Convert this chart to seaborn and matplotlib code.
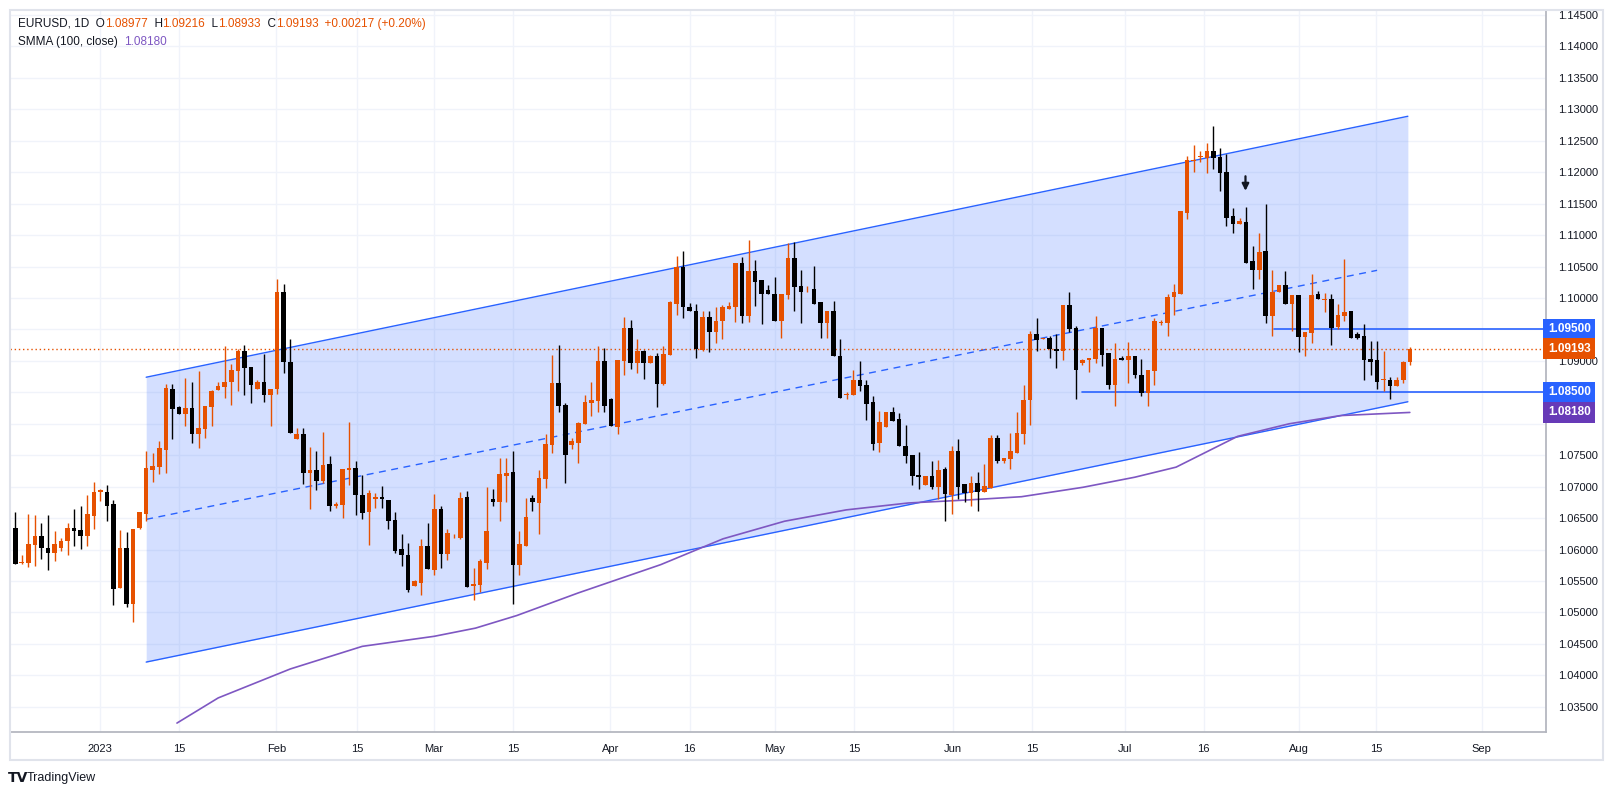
import numpy as np
import pandas as pd
import seaborn as sns
import matplotlib
matplotlib.use("Agg")
import matplotlib.pyplot as plt
from matplotlib.patches import Rectangle

# ---------------- data ----------------
opens = [1.0634,1.0579,1.0578,1.0607,1.0621,1.0603,1.0595,1.0603,1.0613,1.0634,1.0631,1.0622,1.0653,1.0692,1.0692,1.0673,1.0539,1.0602,1.0513,1.0634,
 1.0657,1.0727,1.0732,1.0759,1.0856,1.0827,1.0816,1.0825,1.0784,1.0792,1.0827,1.0854,1.0859,1.0866,1.0884,1.0916,1.0890,1.0856,1.0867,1.0845,
 1.0855,1.1009,1.0899,1.0776,1.0783,1.0722,1.0726,1.0709,1.0736,1.0670,1.0671,1.0726,1.0730,1.0687,1.0659,1.0680,1.0684,1.0678,1.0647,1.0601,
 1.0592,1.0542,1.0547,1.0605,1.0568,1.0665,1.0593,1.0621,1.0619,1.0683,1.0542,1.0543,1.0579,1.0681,1.0676,1.0717,1.0724,1.0576,1.0606,1.0682,
 1.0674,1.0712,1.0766,1.0865,1.0830,1.0767,1.0770,1.0800,1.0833,1.0836,1.0900,1.0839,1.0795,1.0900,1.0953,1.0897,1.0916,1.0896,1.0908,1.0863,
 1.0909,1.0991,1.1050,1.0985,1.0980,1.0918,1.0970,1.0946,1.0963,1.0983,1.0986,1.1055,1.0971,1.1043,1.1028,1.1012,1.1007,1.0963,1.1005,1.1064,
 1.1019,1.1014,1.1014,1.0993,1.0960,1.0979,1.0908,1.0846,1.0846,1.0870,1.0861,1.0834,1.0769,1.0795,1.0818,1.0807,1.0765,1.0751,1.0719,1.0703,
 1.0717,1.0699,1.0728,1.0687,1.0756,1.0704,1.0690,1.0706,1.0691,1.0698,1.0778,1.0740,1.0744,1.0754,1.0783,1.0837,1.0942,1.0935,1.0937,1.0919,
 1.0915,1.0989,1.0952,1.0897,1.0901,1.0903,1.0953,1.0912,1.0862,1.0905,1.0902,1.0908,1.0877,1.0849,1.0884,1.0961,1.0960,1.1001,1.1007,1.1135,
 1.1218,1.1225,1.1223,1.1233,1.1225,1.1201,1.1131,1.1118,1.1121,1.1059,1.1045,1.1074,1.0972,1.1010,1.1020,1.0991,1.1005,1.0938,1.0944,1.1007,
 1.0997,1.0999,1.0954,1.0971,1.0979,1.0943,1.0939,1.0903,1.0901,1.0870,1.0870,1.0860,1.0870,1.08977]
highs = [1.0660,1.0591,1.0656,1.0655,1.0642,1.0655,1.0629,1.0618,1.0642,1.0665,1.0670,1.0687,1.0708,1.0697,1.0703,1.0678,1.0631,1.0628,1.0633,1.0659,
 1.0757,1.0754,1.0772,1.0863,1.0864,1.0829,1.0872,1.0867,1.0884,1.0829,1.0854,1.0866,1.0924,1.0895,1.0919,1.0926,1.0890,1.0869,1.0911,1.0855,
 1.1030,1.1023,1.0935,1.0793,1.0793,1.0763,1.0756,1.0787,1.0748,1.0676,1.0728,1.0802,1.0741,1.0718,1.0695,1.0690,1.0701,1.0678,1.0660,1.0624,
 1.0611,1.0551,1.0617,1.0642,1.0688,1.0670,1.0633,1.0624,1.0692,1.0693,1.0571,1.0585,1.0699,1.0697,1.0746,1.0745,1.0757,1.0630,1.0682,1.0686,
 1.0726,1.0784,1.0909,1.0926,1.0833,1.0777,1.0803,1.0846,1.0867,1.0923,1.0920,1.0841,1.0902,1.0969,1.0965,1.0934,1.0918,1.0910,1.0912,1.0924,
 1.0996,1.1066,1.1074,1.0992,1.0991,1.0980,1.0980,1.0986,1.0989,1.0993,1.1055,1.1065,1.1093,1.1061,1.1028,1.1020,1.1033,1.1007,1.1088,1.1089,
 1.1044,1.1019,1.1051,1.0993,1.0979,1.0995,1.0934,1.0851,1.0886,1.0900,1.0870,1.0844,1.0820,1.0818,1.0827,1.0817,1.0798,1.0751,1.0755,1.0717,
 1.0740,1.0743,1.0732,1.0764,1.0775,1.0704,1.0717,1.0724,1.0736,1.0782,1.0782,1.0746,1.0786,1.0819,1.0861,1.0947,1.0968,1.0937,1.0939,1.0942,
 1.0989,1.1010,1.0956,1.0903,1.0905,1.0972,1.0953,1.0912,1.0928,1.0907,1.0930,1.0908,1.0903,1.0885,1.0968,1.0965,1.1006,1.1022,1.1138,1.1226,
 1.1243,1.1233,1.1246,1.1273,1.1238,1.1229,1.1143,1.1128,1.1144,1.1083,1.1104,1.1149,1.1044,1.1020,1.1043,1.1004,1.1005,1.0946,1.1038,1.1011,
 1.1008,1.1007,1.0991,1.1062,1.0979,1.0946,1.0958,1.0931,1.0931,1.0916,1.0875,1.0875,1.0900,1.09216]
lows = [1.0577,1.0577,1.0572,1.0574,1.0585,1.0568,1.0582,1.0598,1.0592,1.0605,1.0601,1.0605,1.0632,1.0677,1.0645,1.0512,1.0539,1.0509,1.0484,1.0633,
 1.0646,1.0707,1.0720,1.0722,1.0776,1.0815,1.0797,1.0769,1.0761,1.0777,1.0797,1.0854,1.0841,1.0830,1.0852,1.0845,1.0833,1.0856,1.0835,1.0796,
 1.0847,1.0881,1.0785,1.0776,1.0704,1.0664,1.0694,1.0705,1.0662,1.0666,1.0650,1.0702,1.0655,1.0649,1.0607,1.0666,1.0666,1.0633,1.0595,1.0574,
 1.0533,1.0542,1.0528,1.0569,1.0559,1.0571,1.0584,1.0618,1.0617,1.0540,1.0520,1.0533,1.0569,1.0670,1.0645,1.0675,1.0514,1.0560,1.0606,1.0662,
 1.0624,1.0698,1.0753,1.0818,1.0706,1.0760,1.0738,1.0800,1.0812,1.0818,1.0818,1.0796,1.0783,1.0877,1.0887,1.0881,1.0871,1.0896,1.0826,1.0861,
 1.0909,1.0973,1.0968,1.0979,1.0904,1.0916,1.0914,1.0929,1.0934,1.0983,1.0962,1.0960,1.0962,1.0988,1.0959,1.1006,1.0963,1.0937,1.0999,1.0980,
 1.0961,1.1010,1.0991,1.0937,1.0937,1.0907,1.0841,1.0839,1.0845,1.0852,1.0806,1.0759,1.0755,1.0795,1.0805,1.0764,1.0738,1.0703,1.0697,1.0703,
 1.0697,1.0680,1.0645,1.0656,1.0680,1.0675,1.0669,1.0661,1.0691,1.0698,1.0738,1.0738,1.0728,1.0754,1.0768,1.0798,1.0915,1.0934,1.0904,1.0888,
 1.0901,1.0946,1.0839,1.0894,1.0883,1.0897,1.0892,1.0855,1.0829,1.0901,1.0865,1.0873,1.0844,1.0828,1.0861,1.0957,1.0940,1.0973,1.1007,1.1125,
 1.1200,1.1217,1.1199,1.1205,1.1170,1.1114,1.1103,1.1118,1.1055,1.1015,1.1030,1.0961,1.0940,1.1010,1.0990,1.0947,1.0914,1.0908,1.0929,1.0998,
 1.0978,1.0926,1.0951,1.0964,1.0937,1.0935,1.0870,1.0877,1.0855,1.0852,1.0840,1.0860,1.0865,1.08933]
closes = [1.0577,1.0579,1.0609,1.0621,1.0602,1.0595,1.0608,1.0614,1.0635,1.0630,1.0622,1.0656,1.0692,1.0694,1.0670,1.0538,1.0602,1.0513,1.0633,1.0659,
 1.0729,1.0733,1.0761,1.0857,1.0824,1.0816,1.0825,1.0784,1.0794,1.0829,1.0852,1.0860,1.0867,1.0886,1.0916,1.0888,1.0861,1.0867,1.0845,1.0855,
 1.1009,1.0899,1.0785,1.0783,1.0721,1.0726,1.0709,1.0735,1.0670,1.0673,1.0728,1.0730,1.0686,1.0658,1.0690,1.0684,1.0680,1.0645,1.0598,1.0592,
 1.0536,1.0550,1.0606,1.0569,1.0664,1.0593,1.0627,1.0622,1.0682,1.0540,1.0545,1.0582,1.0630,1.0675,1.0720,1.0722,1.0575,1.0609,1.0652,1.0675,
 1.0714,1.0768,1.0865,1.0828,1.0750,1.0773,1.0801,1.0835,1.0837,1.0900,1.0829,1.0796,1.0902,1.0953,1.0897,1.0915,1.0897,1.0908,1.0863,1.0911,
 1.0993,1.1050,1.0986,1.0980,1.0919,1.0970,1.0946,1.0964,1.0985,1.0988,1.1055,1.0971,1.1043,1.1026,1.1007,1.1006,1.0963,1.1007,1.1064,1.1017,
 1.1009,1.1014,1.0991,1.0960,1.0979,1.0907,1.0841,1.0847,1.0870,1.0860,1.0832,1.0768,1.0802,1.0818,1.0805,1.0764,1.0749,1.0717,1.0716,1.0717,
 1.0699,1.0727,1.0688,1.0756,1.0699,1.0690,1.0706,1.0691,1.0701,1.0778,1.0740,1.0746,1.0757,1.0785,1.0838,1.0942,1.0933,1.0935,1.0919,1.0915,
 1.0989,1.0950,1.0885,1.0902,1.0905,1.0953,1.0910,1.0862,1.0903,1.0902,1.0908,1.0877,1.0849,1.0885,1.0963,1.0962,1.1002,1.1010,1.1138,1.1219,
 1.1219,1.1225,1.1234,1.1222,1.1199,1.1128,1.1118,1.1122,1.1056,1.1045,1.1073,1.0971,1.1010,1.1020,1.0991,1.1004,1.0938,1.0946,1.1004,1.0998,
 1.0998,1.0953,1.0973,1.0978,1.0937,1.0937,1.0902,1.0898,1.0867,1.0870,1.0860,1.0870,1.0898,1.09193]

# SMMA(100) line points (bar index, value)
smma_idx = [24.7,31.0,42.0,53.0,64.0,70.3,76.6,86.0,98.6,108.1,117.5,126.9,136.4,145.8,153.7,163.1,171.0,177.3,186.7,194.6,202.4,213.0]
smma_val = [1.0324,1.0364,1.0410,1.0446,1.0462,1.0475,1.0495,1.0531,1.0576,1.0617,1.0645,1.0663,1.0674,1.0679,1.0684,1.0699,1.0715,1.0731,1.0780,1.0800,1.0813,1.0818]

# channel (bar index, price)
chan_x = [20.0, 212.7]
chan_upper = [1.0874, 1.1289]
chan_lower = [1.0421, 1.0835]
chan_mid_x = [20.0, 208.0]
chan_mid = [1.0648, 1.1044]
levels = [1.0950, 1.0850]
level_start = [192.3, 163.0]

tick_labels = ["2023","15","Feb","15","Mar","15","Apr","16","May","15","Jun","15","Jul","16","Aug","15","Sep"]
tick_pos = [12.9,25.0,39.9,52.2,63.9,76.0,90.9,103.0,116.0,128.1,143.2,155.3,169.5,181.5,196.0,207.9,224.0]

last_close = 1.09193
smma_last = 1.08180

# ---------------- drawing ----------------
W, H = 1613, 795
sns.set_theme(style="white")
fig = plt.figure(figsize=(W/100, H/100), dpi=100)
fig.patch.set_facecolor("white")
ax = fig.add_axes([10/W, (H-732)/H, (1546-10)/W, (732-10)/H])
ax.set_facecolor("white")
xmin, xmax = -0.8, 233.8
ymin, ymax = 1.03098, 1.14580
ax.set_xlim(xmin, xmax)
ax.set_ylim(ymin, ymax)

grid_c = "#f0f3fa"
yt = np.round(np.arange(1.035, 1.1451, 0.005), 3)
for y in yt:
    ax.axhline(y, color=grid_c, lw=1, zorder=0)
for x in tick_pos:
    ax.axvline(x, color=grid_c, lw=1, zorder=0)

blue = "#2962ff"
ax.fill_between(chan_x, chan_lower, chan_upper, color="#2962ff", alpha=0.2, lw=0, zorder=1)
sns.lineplot(x=chan_x, y=chan_upper, ax=ax, color=blue, lw=1, zorder=2)
sns.lineplot(x=chan_x, y=chan_lower, ax=ax, color=blue, lw=1, zorder=2)
sns.lineplot(x=chan_mid_x, y=chan_mid, ax=ax, color=blue, lw=1, zorder=2, linestyle=(0, (5, 4)))
for lv, st in zip(levels, level_start):
    ax.plot([st, xmax], [lv, lv], color=blue, lw=1.2, zorder=2)

sns.lineplot(x=smma_idx, y=smma_val, ax=ax, color="#7e57c2", lw=1.2, zorder=2)
ax.axhline(last_close, color="#e65100", lw=1, ls=(0, (1, 2)), zorder=2)

df = pd.DataFrame({"o": opens, "h": highs, "l": lows, "c": closes})
df["i"] = np.arange(len(df))
up = df.c >= df.o
ucol, dcol = "#e65100", "#000000"
cols = np.where(up, ucol, dcol)
ax.vlines(df.i, df.l, df.h, colors=cols, lw=1, zorder=3)
bot = np.minimum(df.o, df.c)
hgt = np.maximum(np.abs(df.c - df.o), 0.00008)
ax.bar(df.i, hgt, bottom=bot, width=0.7, color=cols, lw=0, zorder=4)

# arrow annotation
ax.annotate("", xy=(187.9, 1.1166), xytext=(187.9, 1.1198),
            arrowprops=dict(arrowstyle="-|>", color="#131722", lw=1.6, mutation_scale=10), zorder=5)

for s in ["left", "top"]:
    ax.spines[s].set_visible(False)
ax.spines["right"].set_color("#b2b5be")
ax.spines["bottom"].set_color("#b2b5be")
ax.yaxis.tick_right()
ax.set_yticks(yt)
hide = {1.095, 1.085, 1.08}
ax.set_yticklabels(["" if y in hide else f"{y:.5f}" for y in yt])
ax.set_xticks(tick_pos)
ax.set_xticklabels(tick_labels)
ax.tick_params(axis="both", length=0, labelsize=8, labelcolor="#131722", pad=9)
for t in ax.get_yticklabels() + ax.get_xticklabels():
    t.set_fontfamily("Liberation Sans")
ax.set_xlabel(""); ax.set_ylabel("")
if ax.get_legend(): ax.get_legend().remove()

# price badges
def badge(val, color):
    ax.text(1.0012, val, f"{val:.5f}", transform=ax.get_yaxis_transform(), ha="left", va="center",
            color="white", fontsize=8.5, fontweight="bold", fontfamily="Liberation Sans", zorder=10,
            bbox=dict(boxstyle="square,pad=0.4", fc=color, ec="none"), clip_on=False)
badge(1.0950, blue)
badge(last_close, "#e65100")
badge(1.0850, blue)
badge(smma_last, "#673ab7")

# outer frame
fig.add_artist(Rectangle((10/W, (H-760)/H), (1603-10)/W, (760-10)/H, transform=fig.transFigure,
                         fill=False, ec="#e0e3eb", lw=1.5))

# header
fig.canvas.draw()
r = fig.canvas.get_renderer()
def seq(parts, x0, y0, size=8.5):
    x = x0
    for txt, c in parts:
        t = fig.text(x/W, 1 - y0/H, txt, color=c, fontsize=size, va="center", ha="left", fontfamily="Liberation Sans")
        bb = t.get_window_extent(renderer=r)
        x += bb.width
org, blk = "#e65100", "#131722"
seq([("EURUSD, 1D  O", blk), ("1.08977", org), ("  H", blk), ("1.09216", org), ("  L", blk), ("1.08933", org),
     ("  C", blk), ("1.09193", org), ("  +0.00217 (+0.20%)", org)], 18, 24)
seq([("SMMA (100, close)  ", blk), ("1.08180", "#7e57c2")], 18, 42)
fig.text(8/W, 1 - 778/H, "TV", fontsize=10, fontweight="bold", color="#131722", va="center")
fig.text(27/W, 1 - 778/H, "TradingView", fontsize=9, color="#131722", va="center", fontfamily="Liberation Sans")

fig.savefig("out.png", dpi=100)
